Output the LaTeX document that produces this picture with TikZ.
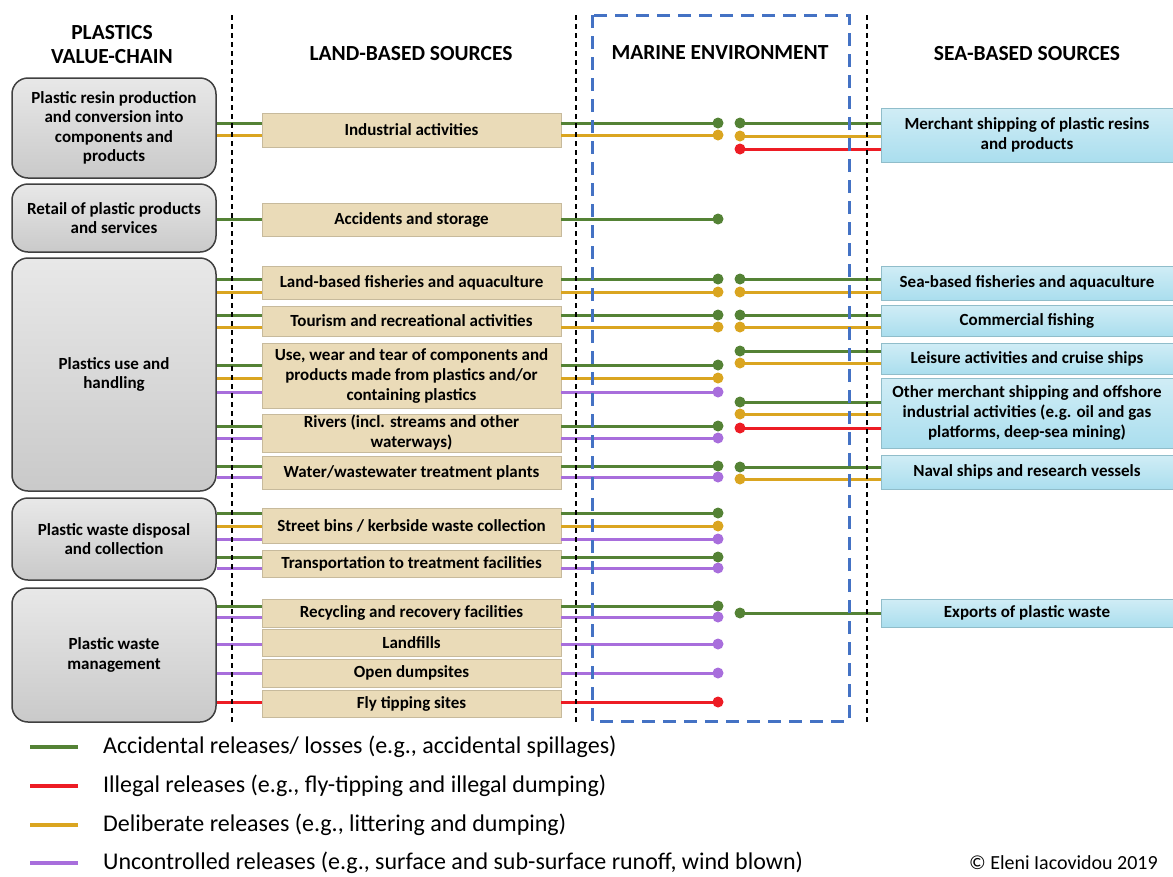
\documentclass[tikz,border=0pt]{standalone}
\usepackage{fontspec}
\setmainfont{Carlito}
\definecolor{accgreen}{RGB}{84,130,53}
\definecolor{illred}{RGB}{237,28,36}
\definecolor{delgold}{RGB}{218,165,32}
\definecolor{uncpurple}{RGB}{168,110,220}
\definecolor{marineblue}{RGB}{68,114,196}
\definecolor{parchment}{RGB}{234,219,184}
\definecolor{seawater}{RGB}{170,222,238}
\tikzset{
  chainbox/.style={draw=black!75, line width=1.5pt, rounded corners=16pt, top color=gray!18, bottom color=gray!42,
    minimum width=204pt, inner sep=0pt, align=center, font=\bfseries\fontsize{17}{19.5}\selectfont},
  landbox/.style={fill=parchment, draw=parchment!85!black, line width=0.3pt, minimum width=299pt,
    inner sep=0pt, align=center, font=\bfseries\fontsize{17}{20}\selectfont},
  seabox/.style={top color=seawater!55, bottom color=seawater, draw=seawater!85!black, line width=0.3pt,
    minimum width=292pt, inner sep=0pt, align=center, font=\bfseries\fontsize{17}{20}\selectfont},
  head/.style={font=\bfseries\fontsize{21.5}{24}\selectfont, align=center},
  acc/.style={line width=3pt, color=accgreen},
  ill/.style={line width=3pt, color=illred},
  del/.style={line width=3pt, color=delgold},
  unc/.style={line width=3pt, color=uncpurple},
  divider/.style={line width=1.2pt, dash pattern=on 5pt off 4pt},
  marine/.style={line width=3pt, color=marineblue, dash pattern=on 13pt off 8pt},
  legtext/.style={anchor=west, inner sep=0pt, font=\fontsize{24}{26}\selectfont},
}
\begin{document}
\begin{tikzpicture}[x=1pt,y=-1pt]
\useasboundingbox (0,0) rectangle (1173,876);

% column headings
\node[head] (hchain) at (112,45) {PLASTICS\\VALUE-CHAIN};
\node[head] (hland) at (411,54) {LAND-BASED SOURCES};
\node[head] (hmarine) at (720,53) {MARINE ENVIRONMENT};
\node[head] (hsea) at (1027,54) {SEA-BASED SOURCES};

% value chain
\node[chainbox, minimum height=100pt] (resin) at (114,128) {Plastic resin production\\and conversion into\\components and\\products};
\node[chainbox, minimum height=68pt] (retail) at (114,218) {Retail of plastic products\\and services};
\node[chainbox, minimum height=233pt] (use) at (114,374.5) {Plastics use and\\handling};
\node[chainbox, minimum height=82pt] (disposal) at (114,539) {Plastic waste disposal\\and collection};
\node[chainbox, minimum height=134pt] (management) at (114,655) {Plastic waste\\management};

% land-based sources
\node[landbox, minimum height=34pt] (ind) at (411.5,130) {Industrial activities};
\node[landbox, minimum height=33pt] (accst) at (411.5,219.5) {Accidents and storage};
\node[landbox, minimum height=33pt] (lfish) at (411.5,282.5) {Land-based fisheries and aquaculture};
\node[landbox, minimum height=30pt] (tour) at (411.5,321) {Tourism and recreational activities};
\node[landbox, minimum height=65pt] (wear) at (411.5,375.5) {Use, wear and tear of components and\\products made from plastics and/or\\containing plastics};
\node[landbox, minimum height=38pt] (rivers) at (411.5,433) {Rivers (incl. streams and other\\waterways)};
\node[landbox, minimum height=33pt] (water) at (411.5,472.5) {Water/wastewater treatment plants};
\node[landbox, minimum height=35pt] (bins) at (411.5,525.5) {Street bins / kerbside waste collection};
\node[landbox, minimum height=27pt] (transp) at (411.5,563.5) {Transportation to treatment facilities};
\node[landbox, minimum height=28pt] (recyc) at (411.5,613) {Recycling and recovery facilities};
\node[landbox, minimum height=27pt] (landf) at (411.5,642.5) {Landfills};
\node[landbox, minimum height=28pt] (dumps) at (411.5,673) {Open dumpsites};
\node[landbox, minimum height=27pt] (flytip) at (411.5,703.5) {Fly tipping sites};

% sea-based sources
\node[seabox, minimum height=54pt] (merch) at (1027,135) {Merchant shipping of plastic resins\\and products};
\node[seabox, minimum height=34pt] (sfish) at (1027,283) {Sea-based fisheries and aquaculture};
\node[seabox, minimum height=31pt] (comm) at (1027,320.5) {Commercial fishing};
\node[seabox, minimum height=31pt] (leis) at (1027,358.5) {Leisure activities and cruise ships};
\node[seabox, minimum height=70pt] (offsh) at (1027,413) {Other merchant shipping and offshore\\industrial activities (e.g. oil and gas\\platforms, deep-sea mining)};
\node[seabox, minimum height=34pt] (naval) at (1027,472) {Naval ships and research vessels};
\node[seabox, minimum height=28pt] (exports) at (1027,613) {Exports of plastic waste};

% land-based releases
\foreach \src/\dst/\kind/\y in {resin/ind/acc/123, resin/ind/del/135, retail/accst/acc/219,
    use/lfish/acc/279, use/lfish/del/292, use/tour/acc/315, use/tour/del/327,
    use/wear/acc/365, use/wear/del/378, use/wear/unc/392, use/rivers/acc/426, use/rivers/unc/438,
    use/water/acc/466, use/water/unc/477, disposal/bins/acc/513, disposal/bins/del/526,
    disposal/bins/unc/539, disposal/transp/acc/557, disposal/transp/unc/568,
    management/recyc/acc/606, management/recyc/unc/617, management/landf/unc/644,
    management/dumps/unc/673, management/flytip/ill/702}{
  \coordinate (sink) at (718,\y);
  \draw[\kind] (\src.east |- sink) -- (\dst.west |- sink);
  \draw[\kind] (\dst.east |- sink) -- (sink);
  \fill[\kind] (sink) circle (5.5pt);
}

% sea-based releases
\foreach \dst/\kind/\y in {merch/acc/123, merch/del/136, merch/ill/149, sfish/acc/279, sfish/del/292,
    comm/acc/315, comm/del/327, leis/acc/351, leis/del/363, offsh/acc/402, offsh/del/414,
    offsh/ill/428, naval/acc/467, naval/del/479, exports/acc/613}{
  \coordinate (source) at (740,\y);
  \draw[\kind] (source) -- (\dst.west |- source);
  \fill[\kind] (source) circle (5.5pt);
}

% column dividers
\foreach \x in {232,576,867}
  \draw[divider] (\x,15) -- (\x,725);
\draw[marine] (592,15) rectangle (849,721);

% legend
\node[legtext] (lgacc) at (103,747) {Accidental releases/ losses (e.g., accidental spillages)};
\node[legtext] (lgill) at (103,786) {Illegal releases (e.g., fly-tipping and illegal dumping)};
\node[legtext] (lgdel) at (103,825) {Deliberate releases (e.g., littering and dumping)};
\node[legtext] (lgunc) at (103,863) {Uncontrolled releases (e.g., surface and sub-surface runoff, wind blown)};
\draw[acc, line width=3.5pt] ([xshift=-25pt]lgacc.west) -- ++(-48,0);
\draw[ill, line width=3.5pt] ([xshift=-25pt]lgill.west) -- ++(-48,0);
\draw[del, line width=3.5pt] ([xshift=-25pt]lgdel.west) -- ++(-48,0);
\draw[unc, line width=3.5pt] ([xshift=-25pt]lgunc.west) -- ++(-48,0);
\node[anchor=east, inner sep=0pt, font=\fontsize{20}{22}\selectfont] (credit) at (1158,863) {© Eleni Iacovidou 2019};
\end{tikzpicture}
\end{document}
